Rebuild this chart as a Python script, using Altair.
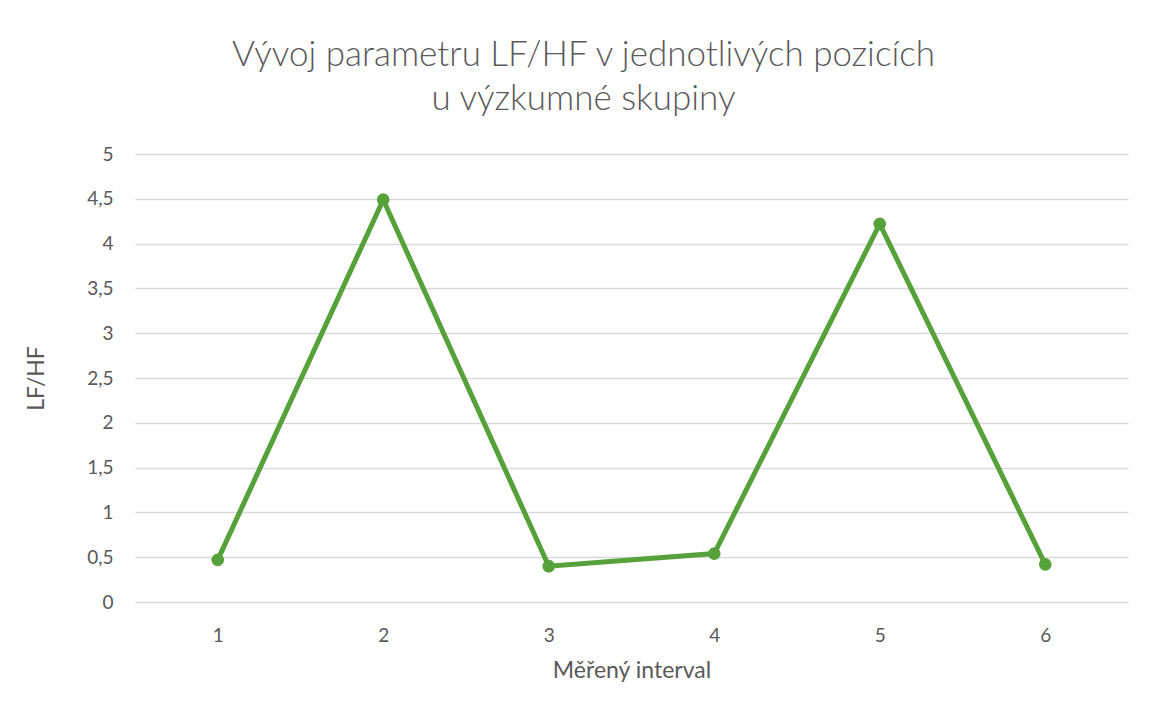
import altair as alt
import pandas as pd

intervals = ["1", "2", "3", "4", "5", "6"]
lfhf = [0.47, 4.49, 0.40, 0.54, 4.22, 0.42]

df = pd.DataFrame({"interval": intervals, "lfhf": lfhf})

FONT = "Lato"
GREY = "#595959"
GREEN = "#57A13A"

x = alt.X("interval:O", sort=intervals,
          scale=alt.Scale(type="point", padding=0.5),
          axis=alt.Axis(title="Měřený interval", labelAngle=0, ticks=False,
                        domain=False, labelPadding=24, titlePadding=14))
y = alt.Y("lfhf:Q", scale=alt.Scale(domain=[0, 5], nice=False),
          axis=alt.Axis(title="LF/HF", values=[0, 0.5, 1, 1.5, 2, 2.5, 3, 3.5, 4, 4.5, 5],
                        labelExpr="replace(format(datum.value, '~g'), '.', ',')",
                        ticks=False, domain=False, labelPadding=22, titlePadding=38))

base = alt.Chart(df).encode(x=x, y=y)
line = base.mark_line(color=GREEN, strokeWidth=5)
pts = base.mark_circle(color=GREEN, size=160, opacity=1)

chart = (line + pts).properties(
    width=993, height=448,
    background="white",
    title=alt.TitleParams(
        text=["Vývoj parametru LF/HF v jednotlivých pozicích", "u výzkumné skupiny"],
        anchor="middle", fontSize=35, font=FONT, fontWeight=300, color=GREY,
        lineHeight=44, offset=28, dx=-48),
    autosize=alt.AutoSizeParams(type="none"),
    padding={"left": 127, "top": 146, "right": 12, "bottom": 90},
).configure_view(stroke=None).configure_axis(
    labelFont=FONT, titleFont=FONT, labelFontSize=19, titleFontSize=23,
    labelColor=GREY, titleColor=GREY, titleFontWeight="normal",
    gridColor="#D9D9D9", gridWidth=1.5,
)

chart.save("out.html", embed_options={"renderer": "svg", "actions": False})
